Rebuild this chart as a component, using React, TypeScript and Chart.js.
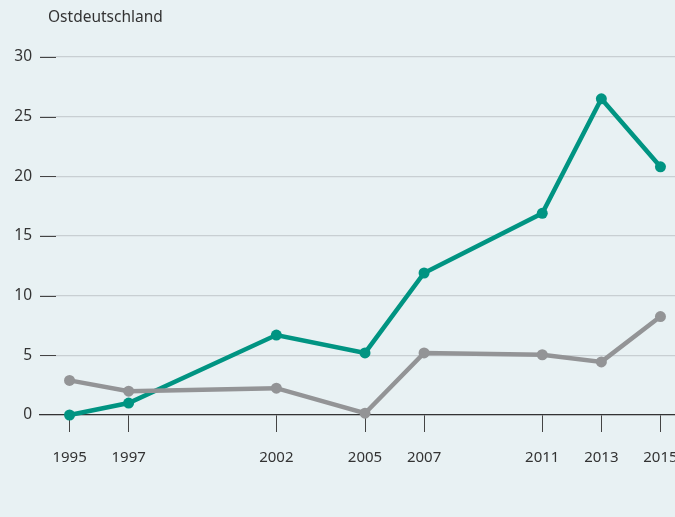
import React, { useEffect, useRef } from "react";
import { Chart, registerables } from "chart.js";

Chart.register(...registerables);

const years = [1995, 1997, 2002, 2005, 2007, 2011, 2013, 2015];
const seriesGreen = [0, 1.0, 6.7, 5.2, 11.9, 16.9, 26.5, 20.8];
const seriesGray = [2.9, 2.0, 2.25, 0.15, 5.2, 5.05, 4.45, 8.25];
const yTicks = [0, 5, 10, 15, 20, 25, 30];
const title = "Ostdeutschland";

const BG = "#e8f1f3";
const GREEN = "#009482";
const GRAY = "#939496";
const TEXT = "#333333";
const FONT = "'Noto Sans', 'Open Sans', sans-serif";

export default function App() {
  const ref = useRef<HTMLCanvasElement | null>(null);

  useEffect(() => {
    if (!ref.current) return;
    const bgPlugin = {
      id: "bg",
      beforeDraw(chart: any) {
        const { ctx, width, height } = chart;
        ctx.save();
        ctx.fillStyle = BG;
        ctx.fillRect(0, 0, width, height);
        ctx.restore();
      },
      afterDraw(chart: any) {
        const { ctx } = chart;
        ctx.save();
        ctx.fillStyle = TEXT;
        ctx.font = `15.5px ${FONT}`;
        ctx.textAlign = "left";
        ctx.textBaseline = "middle";
        ctx.fillText(title, 48, 18);
        ctx.restore();
      },
      beforeDatasetsDraw(chart: any) {
        const { ctx, chartArea } = chart;
        const ys = chart.scales.y;
        ctx.save();
        ctx.strokeStyle = "#444";
        ctx.lineWidth = 1;
        for (const v of yTicks) {
          if (v === 0) continue;
          const y = Math.round(ys.getPixelForValue(v)) + 0.5;
          ctx.beginPath();
          ctx.moveTo(chartArea.left, y);
          ctx.lineTo(chartArea.left + 16, y);
          ctx.stroke();
        }
        ctx.restore();
      },
    };

    const chart = new Chart(ref.current, {
      type: "line",
      data: {
        datasets: [
          {
            label: "gray",
            data: years.map((x, i) => ({ x, y: seriesGray[i] })),
            borderColor: GRAY,
            backgroundColor: GRAY,
            borderWidth: 4.5,
            pointRadius: 5.5,
            pointBorderWidth: 0,
            tension: 0,
          },
          {
            label: "green",
            data: years.map((x, i) => ({ x, y: seriesGreen[i] })),
            borderColor: GREEN,
            backgroundColor: GREEN,
            borderWidth: 4.5,
            pointRadius: 5.5,
            pointBorderWidth: 0,
            tension: 0,
          },
        ],
      },
      options: {
        animation: false,
        responsive: false,
        clip: false as any,
        layout: { padding: { top: 57, right: 10, left: 0, bottom: 0 } },
        plugins: { legend: { display: false }, tooltip: { enabled: false } },
        scales: {
          x: {
            type: "linear",
            min: 1994,
            max: 2016,
            afterBuildTicks(scale: any) {
              scale.ticks = years.map((v) => ({ value: v }));
            },
            afterFit(scale: any) {
              scale.height = 102;
            },
            ticks: {
              color: TEXT,
              font: { family: FONT, size: 15 },
              padding: 17,
              maxRotation: 0,
              autoSkip: false,
              callback: (v: any) => String(v),
            },
            grid: {
              drawOnChartArea: false,
              drawTicks: true,
              tickLength: 17,
              tickColor: "#444",
              tickWidth: 1,
            },
            border: { display: true, color: "#333", width: 1.2 },
          },
          y: {
            min: 0,
            max: 30,
            afterBuildTicks(scale: any) {
              scale.ticks = yTicks.map((v) => ({ value: v }));
            },
            afterFit(scale: any) {
              scale.width = 40;
            },
            ticks: {
              color: TEXT,
              font: { family: FONT, size: 15.5 },
              padding: 8,
            },
            grid: {
              color: "#c8cfd2",
              lineWidth: 1.2,
              drawTicks: false,
            },
            border: { display: false },
          },
        },
      },
      plugins: [bgPlugin],
    });
    return () => chart.destroy();
  }, []);

  return (
    <div
      style={{
        position: "fixed",
        left: 0,
        top: 0,
        width: 675,
        height: 517,
        overflow: "hidden",
        background: BG,
      }}
    >
      <canvas ref={ref} width={700} height={517} style={{ display: "block" }} />
    </div>
  );
}
